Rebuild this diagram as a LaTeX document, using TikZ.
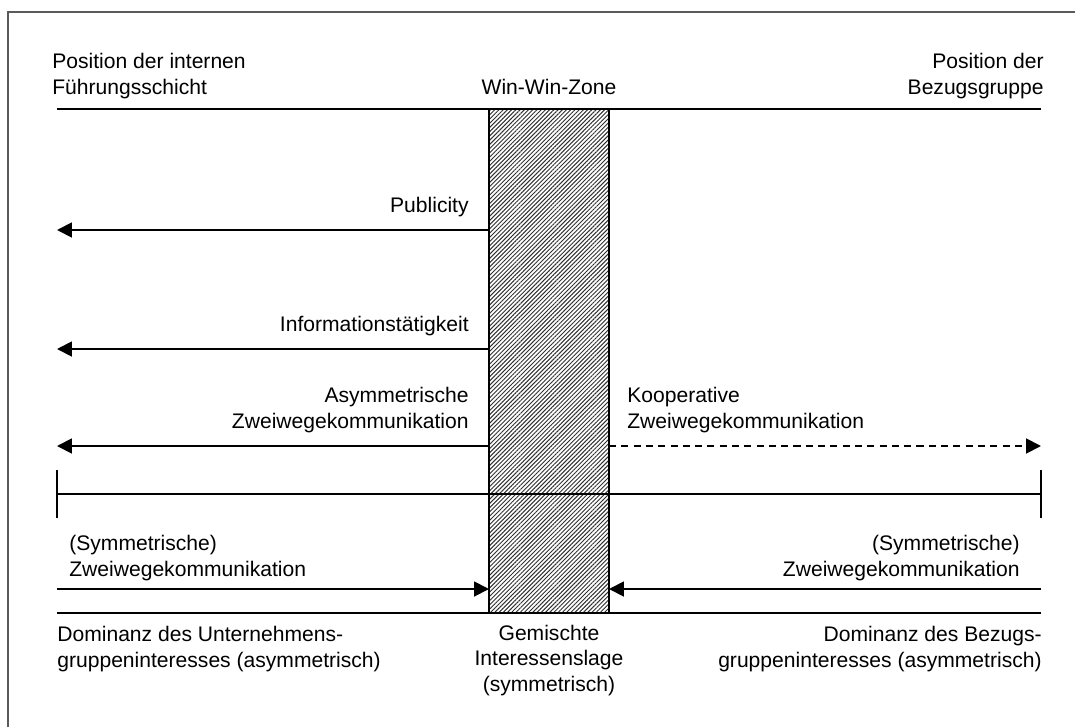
\documentclass[tikz,border=0pt]{standalone}
\usepackage{fontspec}
\setmainfont{Liberation Sans}
\usetikzlibrary{arrows.meta,patterns.meta}
\definecolor{frameink}{HTML}{5A5A5A}
\definecolor{hatchink}{HTML}{303030}

\begin{document}
\begin{tikzpicture}[x=0.02cm,y=-0.02cm,
    rule/.style={draw=black,line width=1.1pt},
    flow/.style={rule,-{Triangle[length=8.5pt,width=8.5pt]}},
    lbl/.style={font=\fontsize{12}{14.5}\selectfont,inner sep=0pt}]
  \useasboundingbox (0,0) rectangle (1075,727);
  \draw[draw=frameink,line width=0.6pt] (8,727) -- (8,12) -- (1075,12);
  % corner points of the zone and the rules
  \coordinate (zoneTL) at (489,109);
  \coordinate (zoneBR) at (609,613);
  \coordinate (topL) at (57,109);   \coordinate (topR) at (1041,109);
  \coordinate (axisL) at (57,494);  \coordinate (axisR) at (1041,494);
  \coordinate (botL) at (57,613);   \coordinate (botR) at (1041,613);
  \path[pattern={Lines[angle=45,distance=1.7pt,line width=0.55pt]},pattern color=hatchink] (zoneTL) rectangle (zoneBR);
  \draw[rule] (zoneTL) rectangle (zoneBR);
  \draw[rule] (topL) -- (topR);
  \draw[rule] (axisL) -- (axisR);
  \draw[rule] (botL) -- (botR);
  \draw[rule] (57,470) -- (57,518);
  \draw[rule] (1041,470) -- (1041,518);
  % head labels (base = last line)
  \node[lbl,anchor=base west,align=left] (ownpos) at (52,94) {Position der internen\\Führungsschicht};
  \node[lbl,anchor=base] (winwin) at (549,94) {Win-Win-Zone};
  \node[lbl,anchor=base east,align=right] (refpos) at (1044,94) {Position der\\Bezugsgruppe};
  % one-way models
  \node[lbl,anchor=base east] (publicity) at (469,212) {Publicity};
  \coordinate (pubS) at (489,230);  \coordinate (pubE) at (57,230);
  \draw[flow] (pubS) -- (pubE);
  \node[lbl,anchor=base east] (info) at (469,331) {Informationstätigkeit};
  \coordinate (infoS) at (489,349); \coordinate (infoE) at (57,349);
  \draw[flow] (infoS) -- (infoE);
  \node[lbl,anchor=base east,align=right] (asym) at (469,428) {Asymmetrische\\Zweiwegekommunikation};
  \coordinate (asymS) at (489,446); \coordinate (asymE) at (57,446);
  \draw[flow] (asymS) -- (asymE);
  \node[lbl,anchor=base west,align=left] (coop) at (627,428) {Kooperative\\Zweiwegekommunikation};
  \coordinate (coopS) at (609,446); \coordinate (coopE) at (1041,446);
  \draw[flow,dash pattern=on 4pt off 3pt] (coopS) -- (coopE);
  % symmetric models
  \node[lbl,anchor=base west,align=left] (symL) at (69,576) {(Symmetrische)\\Zweiwegekommunikation};
  \node[lbl,anchor=base east,align=right] (symR) at (1020,576) {(Symmetrische)\\Zweiwegekommunikation};
  \coordinate (symLS) at (57,589);   \coordinate (symLE) at (489,589);
  \coordinate (symRS) at (1041,589); \coordinate (symRE) at (609,589);
  \draw[flow] (symLS) -- (symLE);
  \draw[flow] (symRS) -- (symRE);
  % foot labels
  \node[lbl,anchor=base west,align=left] (domOrg) at (57,667) {Dominanz des Unternehmens-\\gruppeninteresses (asymmetrisch)};
  \node[lbl,anchor=base,align=center] (mixed) at (549,691) {Gemischte\\Interessenslage\\(symmetrisch)};
  \node[lbl,anchor=base east,align=right] (domRef) at (1042,667) {Dominanz des Bezugs-\\gruppeninteresses (asymmetrisch)};
\end{tikzpicture}
\end{document}
